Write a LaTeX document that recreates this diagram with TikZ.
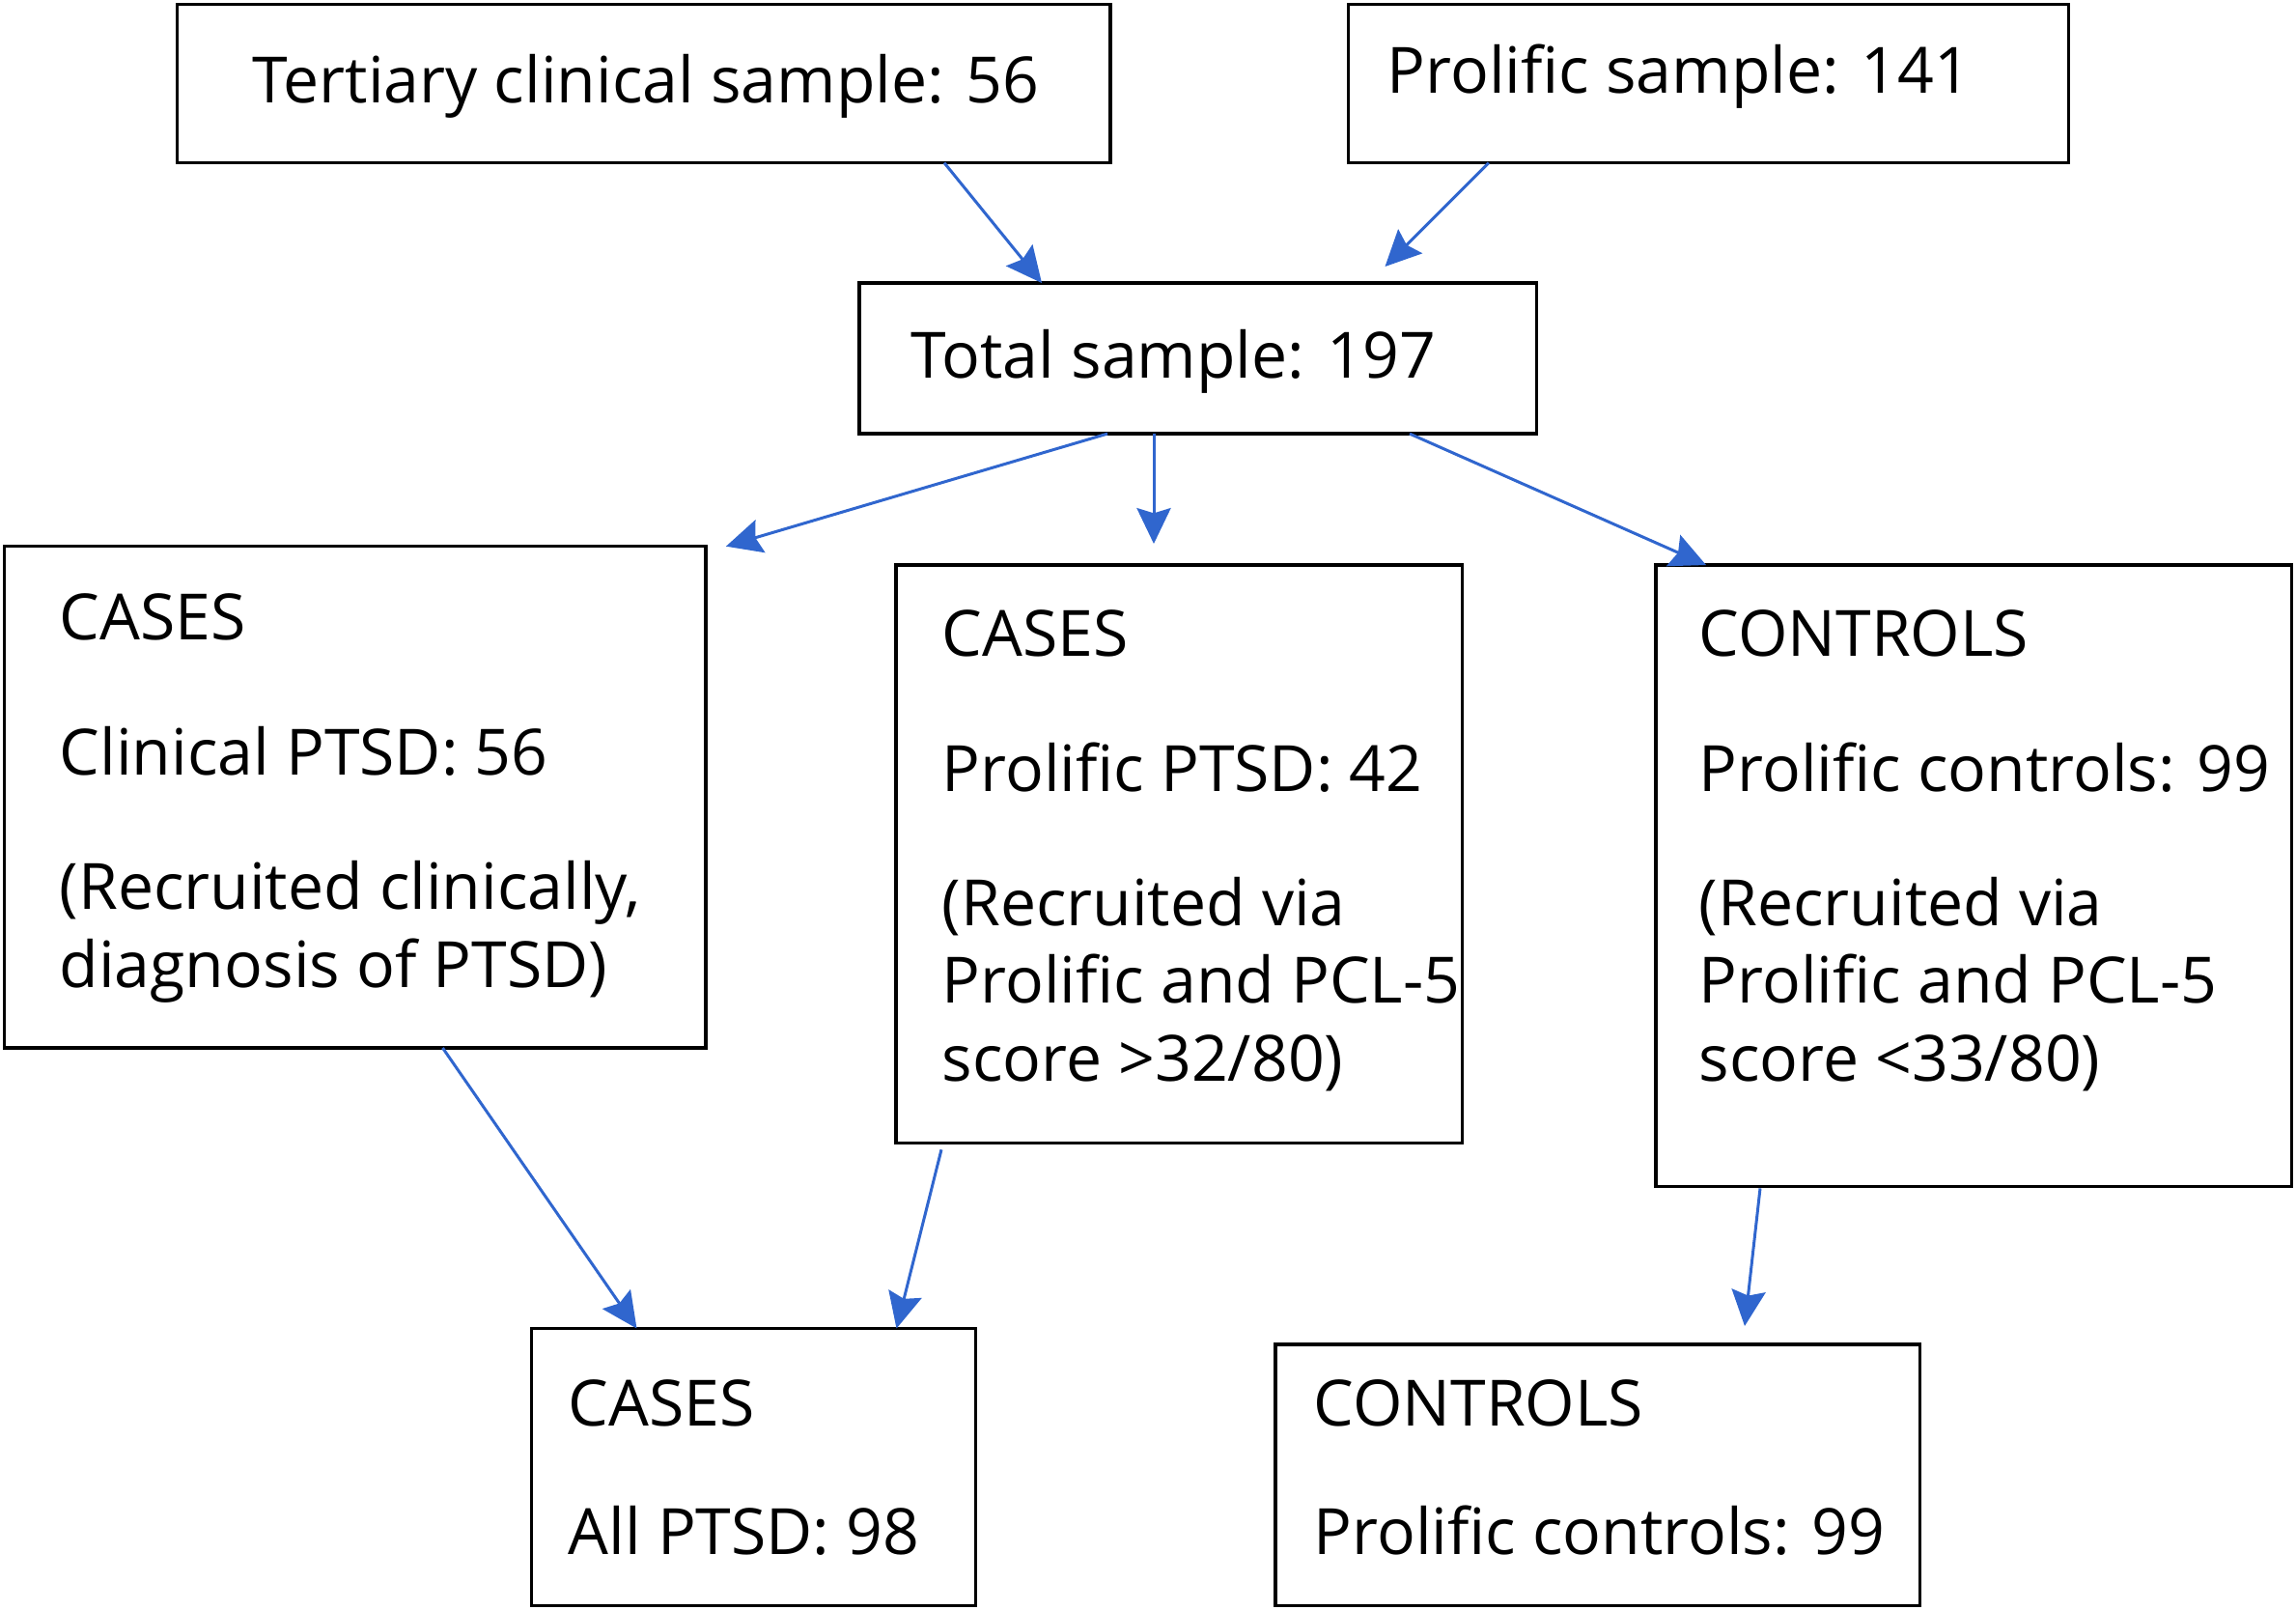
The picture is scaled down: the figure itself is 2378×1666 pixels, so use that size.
\documentclass[tikz,border=0pt]{standalone}
\usepackage{fontspec}
\setmainfont{Open Sans}
\usepackage{tikz}
\usetikzlibrary{positioning, arrows.meta}
\definecolor{flowblue}{RGB}{48,102,206}

\begin{document}
\begin{tikzpicture}[x=0.01cm, y=-0.01cm,
    box/.style={draw=black, line width=0.95pt, anchor=north west, inner sep=0pt, outer sep=0pt},
    boxtext/.style={anchor=base west, align=left, inner sep=0pt, font=\fontsize{18.8}{22.76}\selectfont},
    flow/.style={-{Stealth[length=10.5pt, width=10pt, inset=1.5pt]}, line width=0.85pt, draw=flowblue}]
	% --- WYMIARY RYSUNKU ---
	\useasboundingbox (0,0) rectangle (2378,1666);
	
	% --- Zrodla proby (gorny rzad) ---
	\node[box, minimum width=9.66cm, minimum height=1.64cm] (tertiary) at (183.5,4.5) {};
	\node[boxtext] (tertiarytxt) at (261,106) {Tertiary clinical sample: 56};
	
	\node[box, minimum width=7.45cm, minimum height=1.64cm] (prolific) at (1396.8,4.5) {};
	\node[boxtext] (prolifictxt) at (1436,96) {Prolific sample: 141};
	
	% Cala proba
	\node[box, minimum width=7.01cm, minimum height=1.56cm] (total) at (890,293) {};
	\node[boxtext] (totaltxt) at (943,391) {Total sample: 197};
	
	% --- Podzial na grupy (baza = ostatnia linia tekstu) ---
	\node[box, minimum width=7.26cm, minimum height=5.19cm] (clinical) at (4.5,565.7) {};
	\node[boxtext] (clinicaltxt) at (61,1022) {CASES\\[17pt]Clinical PTSD: 56\\[17pt](Recruited clinically,\\diagnosis of PTSD)};
	
	\node[box, minimum width=5.86cm, minimum height=5.98cm] (ptsd) at (928,585) {};
	\node[boxtext] (ptsdtxt) at (975,1119) {CASES\\[17pt]Prolific PTSD: 42\\[17pt](Recruited via\\Prolific and PCL-5\\score >32/80)};
	
	\node[box, minimum width=6.58cm, minimum height=6.43cm] (controls) at (1715,585) {};
	\node[boxtext] (controlstxt) at (1759,1119) {CONTROLS\\[17pt]Prolific controls: 99\\[17pt](Recruited via\\Prolific and PCL-5\\score <33/80)};
	
	% --- Grupy koncowe ---
	\node[box, minimum width=4.60cm, minimum height=2.87cm] (allptsd) at (550.5,1375.5) {};
	\node[boxtext] (allptsdtxt) at (588,1609) {CASES\\[15pt]All PTSD: 98};
	
	\node[box, minimum width=6.67cm, minimum height=2.70cm] (allcontrols) at (1321,1392) {};
	\node[boxtext] (allcontrolstxt) at (1360,1609) {CONTROLS\\[15pt]Prolific controls: 99};
	
	% --- Strzalki ---
	\draw[flow] ([shift={(794.5,0)}]tertiary.south west) -- ([shift={(189,0)}]total.north west);
	\draw[flow] ([shift={(145,0)}]prolific.south west) -- ([shift={(544.5,-17)}]total.north west);
	
	\draw[flow] ([shift={(257,0)}]total.south west) -- ([shift={(21,0)}]clinical.north east);
	\draw[flow] ([shift={(305,0)}]total.south west) -- ([shift={(267,-22)}]ptsd.north west);
	\draw[flow] ([shift={(570,0)}]total.south west) -- ([shift={(52,0)}]controls.north west);
	
	\draw[flow] ([shift={(454,0)}]clinical.south west) -- ([shift={(109,0)}]allptsd.north west);
	\draw[flow] ([shift={(47,7)}]ptsd.south west) -- ([shift={(378,0)}]allptsd.north west);
	\draw[flow] ([shift={(108,2)}]controls.south west) -- ([shift={(486,-19)}]allcontrols.north west);
	
\end{tikzpicture}
\end{document}
